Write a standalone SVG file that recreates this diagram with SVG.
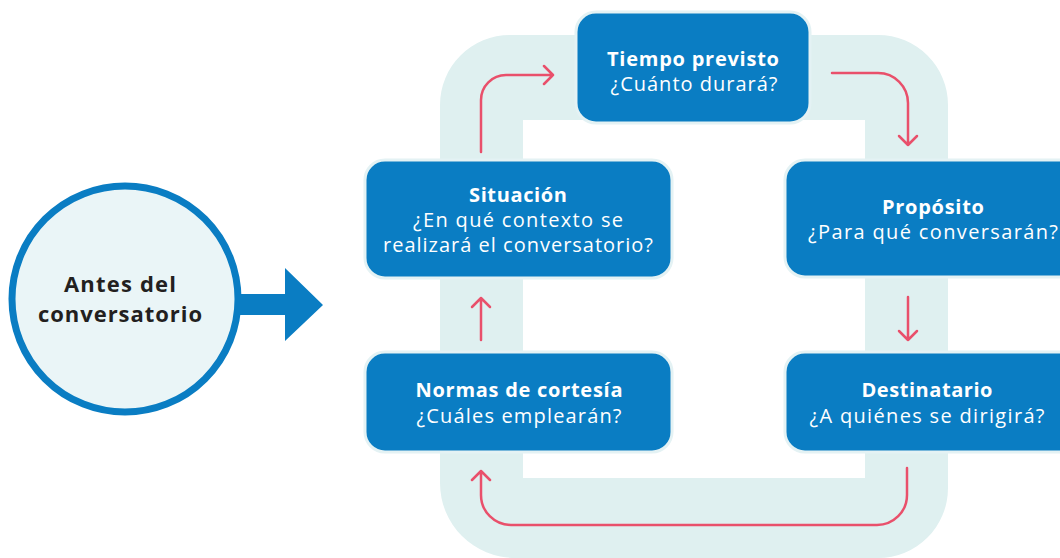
<svg xmlns="http://www.w3.org/2000/svg" width="1060" height="558" viewBox="0 0 1060 558">
<style>
.box{fill:#0a7dc3;stroke:#e4f2f4;stroke-width:3}
.t{font-family:"Open Sans",sans-serif;font-size:20px;fill:#ffffff;text-anchor:middle}
.b{font-weight:700}
.c{fill:none;stroke:#e9506b;stroke-width:2.5;stroke-linecap:round;stroke-linejoin:round}
.ct{font-family:"Open Sans",sans-serif;font-size:22px;font-weight:700;fill:#231f20;text-anchor:middle}
</style>
<rect width="1060" height="558" fill="#ffffff"/>
<path id="band" d="M510,35 H878 A70,70 0 0 1 948,105 V488 A70,70 0 0 1 878,558 H515 A75,75 0 0 1 440,483 V105 A70,70 0 0 1 510,35 Z M523,120 V478 H865 V120 Z" fill="#dff0f0" fill-rule="evenodd"/>
<g id="start">
<circle cx="125" cy="299" r="113" fill="#eaf5f7" stroke="#0a7dc3" stroke-width="7"/>
<text class="ct" x="120" y="292" textLength="112">Antes del</text>
<text class="ct" x="120" y="322" textLength="164">conversatorio</text>
<path d="M238,294 H285 V268 L323,305 L285,341 V315 H238 Z" fill="#0a7dc3"/>
</g>
<g id="connectors">
<path class="c" d="M481,152 V100 A25,25 0 0 1 506,75 H553 M544,66 L553,75 L544,84"/>
<path class="c" d="M832,73 H878 A30,30 0 0 1 908,103 V145 M899,136 L908,145 L917,136"/>
<path class="c" d="M908,297 V340 M899,331 L908,340 L917,331"/>
<path class="c" d="M907,468 V495 A30,30 0 0 1 877,525 H511 A30,30 0 0 1 481,495 V471 M472,480 L481,471 L490,480"/>
<path class="c" d="M481,340 V298 M472,307 L481,298 L490,307"/>
</g>
<g id="tiempo">
<rect class="box" x="576" y="12" width="234" height="111" rx="20"/>
<text class="t b" x="693" y="66" textLength="172">Tiempo previsto</text>
<text class="t" x="694" y="91" textLength="167">¿Cuánto durará?</text>
</g>
<g id="situacion">
<rect class="box" x="365" y="160" width="307" height="118" rx="20"/>
<text class="t b" x="518" y="202" textLength="98">Situación</text>
<text class="t" x="518" y="227" textLength="210">¿En qué contexto se</text>
<text class="t" x="518" y="252" textLength="270">realizará el conversatorio?</text>
</g>
<g id="proposito">
<rect class="box" x="785" y="160" width="296" height="117" rx="20"/>
<text class="t b" x="933" y="214" textLength="102">Propósito</text>
<text class="t" x="933" y="239" textLength="250">¿Para qué conversarán?</text>
</g>
<g id="normas">
<rect class="box" x="365" y="352" width="307" height="100" rx="20"/>
<text class="t b" x="519" y="397" textLength="207">Normas de cortesía</text>
<text class="t" x="519" y="423" textLength="205">¿Cuáles emplearán?</text>
</g>
<g id="destinatario">
<rect class="box" x="785" y="352" width="296" height="100" rx="20"/>
<text class="t b" x="927" y="397" textLength="131">Destinatario</text>
<text class="t" x="927" y="423" textLength="235">¿A quiénes se dirigirá?</text>
</g>
</svg>
